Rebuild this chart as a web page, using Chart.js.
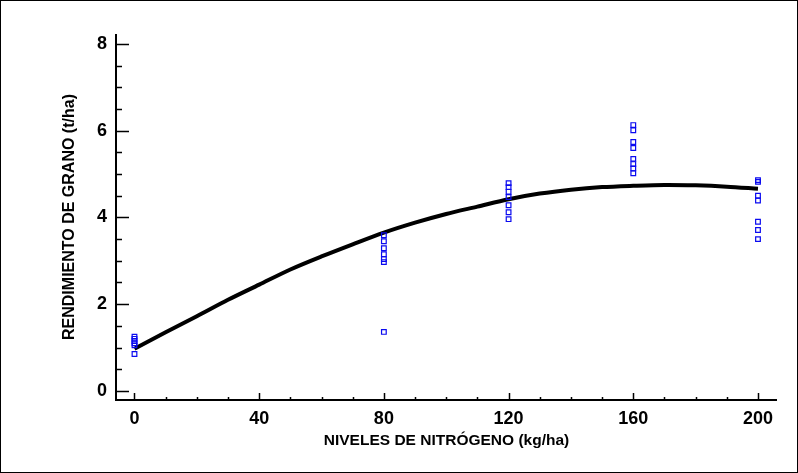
<!DOCTYPE html>
<html lang="es">

<head>
    <meta charset="UTF-8">
    <title>Rendimiento de grano</title>
    <script src="https://cdn.jsdelivr.net/npm/chart.js"></script>
    <style>
        html, body { margin: 0; padding: 0; background: #fff; }
        #wrap { width: 798px; height: 473px; }
    </style>
</head>

<body>
    <div id="wrap">
        <canvas id="myChart" width="798" height="473"></canvas>
    </div>

    <script>
        // observaciones por nivel de N
        const dosis0 = [1.25, 1.2, 1.15, 1.1, 1.05, 0.85];
        const dosis80 = [3.59, 3.45, 3.29, 3.15, 3.04, 2.97, 1.36];
        const dosis120 = [4.79, 4.7, 4.59, 4.47, 4.28, 4.12, 3.96];
        const dosis160 = [6.13, 6.01, 5.74, 5.6, 5.35, 5.23, 5.13, 5.02];
        const dosis200 = [4.86, 4.82, 4.5, 4.39, 3.9, 3.71, 3.5];

        // curva ajustada
        const curvaN = [0, 10, 20, 30, 40, 50, 60, 70, 80, 90, 100, 110, 120, 130, 140, 150, 160, 170, 180, 190, 200];
        const curvaRend = [0.97, 1.35, 1.72, 2.1, 2.45, 2.8, 3.1, 3.38, 3.65, 3.88, 4.08, 4.25, 4.42, 4.55, 4.64, 4.7, 4.73, 4.75, 4.74, 4.71, 4.66];

        const xTicks = [0, 40, 80, 120, 160, 200];
        const yTicks = [0, 2, 4, 6, 8];

        const obs = [];
        [[0, dosis0], [80, dosis80], [120, dosis120], [160, dosis160], [200, dosis200]].forEach(([n, vals]) => {
            vals.forEach(v => obs.push({ x: n, y: v }));
        });
        const curva = curvaN.map((n, i) => ({ x: n, y: curvaRend[i] }));

        // ejes con marcas hacia adentro + marco exterior
        const ejes = {
            id: 'ejes',
            afterDraw(chart) {
                const c = chart.ctx, a = chart.chartArea;
                const xs = chart.scales.x, ys = chart.scales.y;
                c.save();
                c.strokeStyle = '#000';
                c.lineWidth = 1;
                c.strokeRect(0.5, 0.5, chart.width - 1, chart.height - 1);
                c.lineWidth = 2;
                c.beginPath();
                c.moveTo(a.left, a.top);
                c.lineTo(a.left, a.bottom);
                c.lineTo(a.right, a.bottom);
                c.stroke();
                c.lineWidth = 1.5;
                c.beginPath();
                for (let v = 0; v <= 200; v += 10) {
                    const px = Math.round(xs.getPixelForValue(v)) + 0.5;
                    const len = v % 40 === 0 ? 7 : 3;
                    c.moveTo(px, a.bottom);
                    c.lineTo(px, a.bottom - len);
                }
                for (let v = 0; v <= 8; v += 0.5) {
                    const py = Math.round(ys.getPixelForValue(v)) + 0.5;
                    const len = v % 2 === 0 ? 13 : 6;
                    c.moveTo(a.left, py);
                    c.lineTo(a.left + len, py);
                }
                c.stroke();
                c.restore();
            }
        };

        const fuente = { family: 'Liberation Sans, Arial, sans-serif', weight: 'bold' };

        new Chart(document.getElementById('myChart'), {
            type: 'scatter',
            data: {
                datasets: [{
                    data: curva,
                    showLine: true,
                    borderColor: '#000',
                    borderWidth: 4,
                    tension: 0.3,
                    pointRadius: 0,
                    order: 2
                }, {
                    data: obs,
                    pointStyle: 'rect',
                    pointRadius: 3.3,
                    pointBorderWidth: 1.2,
                    pointBorderColor: 'rgb(10,10,240)',
                    pointBackgroundColor: 'rgba(255,255,255,0)',
                    order: 1
                }]
            },
            options: {
                responsive: false,
                animation: false,
                devicePixelRatio: 1,
                layout: { padding: { top: 34, right: 21, left: 0, bottom: 0 } },
                plugins: { legend: { display: false }, tooltip: { enabled: false } },
                scales: {
                    x: {
                        type: 'linear',
                        min: -5.93,
                        max: 206.1,
                        afterBuildTicks: s => { s.ticks = xTicks.map(v => ({ value: v })); },
                        afterFit: s => { s.height = 73; },
                        grid: { display: false, drawTicks: false },
                        border: { display: false },
                        ticks: { color: '#000', padding: 8, font: { ...fuente, size: 18 }, maxRotation: 0 },
                        title: {
                            display: true,
                            text: 'NIVELES DE NITRÓGENO (kg/ha)',
                            color: '#000',
                            font: { ...fuente, size: 15.5 },
                            padding: { top: 0, bottom: 23 }
                        }
                    },
                    y: {
                        type: 'linear',
                        min: -0.21,
                        max: 8.23,
                        afterBuildTicks: s => { s.ticks = yTicks.map(v => ({ value: v })); },
                        afterFit: s => { s.width = 116; },
                        grid: { display: false, drawTicks: false },
                        border: { display: false },
                        ticks: { color: '#000', padding: 9, font: { ...fuente, size: 18 } },
                        title: {
                            display: true,
                            text: 'RENDIMIENTO DE GRANO (t/ha)',
                            color: '#000',
                            font: { ...fuente, size: 16 },
                            padding: { top: 60, bottom: 0 }
                        }
                    }
                }
            },
            plugins: [ejes]
        });
    </script>
</body>

</html>
